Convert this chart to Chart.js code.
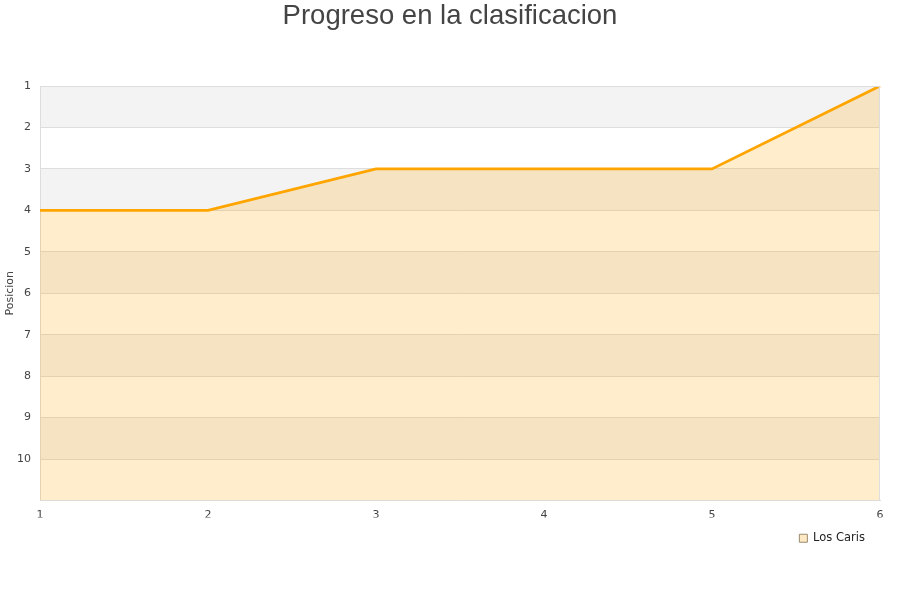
<!DOCTYPE html>
<html>
<head>
<meta charset="utf-8">
<title>Progreso en la clasificacion</title>
<script src="https://cdn.jsdelivr.net/npm/chart.js@4"></script>
<style>
  html, body { margin: 0; padding: 0; background: #fff; }
  #wrap { width: 900px; height: 600px; }
</style>
</head>
<body>
<div id="wrap"><canvas id="chart"></canvas></div>
<script>
// jornadas y posicion del equipo
const jornadas = ['1', '2', '3', '4', '5', '6'];
const posiciones = [4, 4, 3, 3, 3, 1];
const equipo = 'Los Caris';
const posMin = 1;
const posMax = 11;

// franjas grises alternas detras del grafico
const bandsPlugin = {
  id: 'bands',
  beforeDraw(chart) {
    const { ctx, chartArea, scales } = chart;
    const y = scales.y;
    ctx.save();
    ctx.fillStyle = '#f3f3f3';
    for (let v = posMin; v < posMax; v += 2) {
      const top = y.getPixelForValue(v);
      const bottom = y.getPixelForValue(v + 1);
      ctx.fillRect(chartArea.left, top, chartArea.right - chartArea.left, bottom - top);
    }
    ctx.restore();
  }
};

new Chart(document.getElementById('chart'), {
  type: 'line',
  data: {
    labels: jornadas,
    datasets: [{
      label: equipo,
      data: posiciones,
      borderColor: '#ffa500',
      backgroundColor: 'rgba(255,165,0,0.2)',
      borderWidth: 2.8,
      pointRadius: 0,
      tension: 0,
      fill: { value: posMax }
    }]
  },
  options: {
    responsive: true,
    maintainAspectRatio: false,
    animation: false,
    layout: { padding: { left: 0, right: 0, top: 0, bottom: 46 } },
    plugins: {
      title: {
        display: true,
        text: 'Progreso en la clasificacion',
        color: '#444',
        font: { family: 'Liberation Sans', size: 27.5, weight: 'normal' },
        padding: { top: 0, bottom: 53 }
      },
      legend: {
        position: 'bottom',
        align: 'end',
        fullSize: false,
        labels: {
          color: '#222',
          padding: 15,
          font: { family: 'DejaVu Sans', size: 11.5 },
          boxWidth: 8,
          boxHeight: 8,
          generateLabels(chart) {
            const items = Chart.defaults.plugins.legend.labels.generateLabels(chart);
            items.forEach(it => { it.lineWidth = 1; it.strokeStyle = '#9a8a70'; it.fillStyle = '#ffe9c4'; });
            return items;
          }
        }
      },
      tooltip: { enabled: false }
    },
    scales: {
      x: {
        offset: false,
        grid: { display: false, drawTicks: false },
        border: { display: true, color: '#ddd' },
        ticks: {
          color: '#444',
          font: { family: 'DejaVu Sans', size: 11 },
          padding: 8,
          maxRotation: 0
        },
        afterFit(scale) { scale.height = 17; scale.paddingRight = 20; }
      },
      y: {
        reverse: true,
        min: posMin,
        max: posMax,
        grid: { color: '#ddd', drawTicks: false },
        border: { display: true, color: '#ddd' },
        ticks: {
          stepSize: 1,
          color: '#444',
          padding: 9,
          font: { family: 'DejaVu Sans', size: 11 },
          callback: v => (v >= posMax ? '' : v)
        },
        title: {
          display: true,
          text: 'Posicion',
          color: '#444',
          font: { family: 'DejaVu Sans', size: 11 },
          padding: { top: 4, bottom: 0 }
        },
        afterFit(scale) { scale.width = 40; }
      }
    }
  },
  plugins: [bandsPlugin, {
    // borde superior y derecho del area del grafico
    id: 'frame',
    afterDraw(chart) {
      const { ctx, chartArea: a } = chart;
      ctx.save();
      ctx.strokeStyle = '#ddd';
      ctx.lineWidth = 1;
      ctx.beginPath();
      ctx.moveTo(a.left, a.top + 0.5);
      ctx.lineTo(a.right - 0.5, a.top + 0.5);
      ctx.lineTo(a.right - 0.5, a.bottom);
      ctx.stroke();
      ctx.restore();
    }
  }]
});
</script>
</body>
</html>
